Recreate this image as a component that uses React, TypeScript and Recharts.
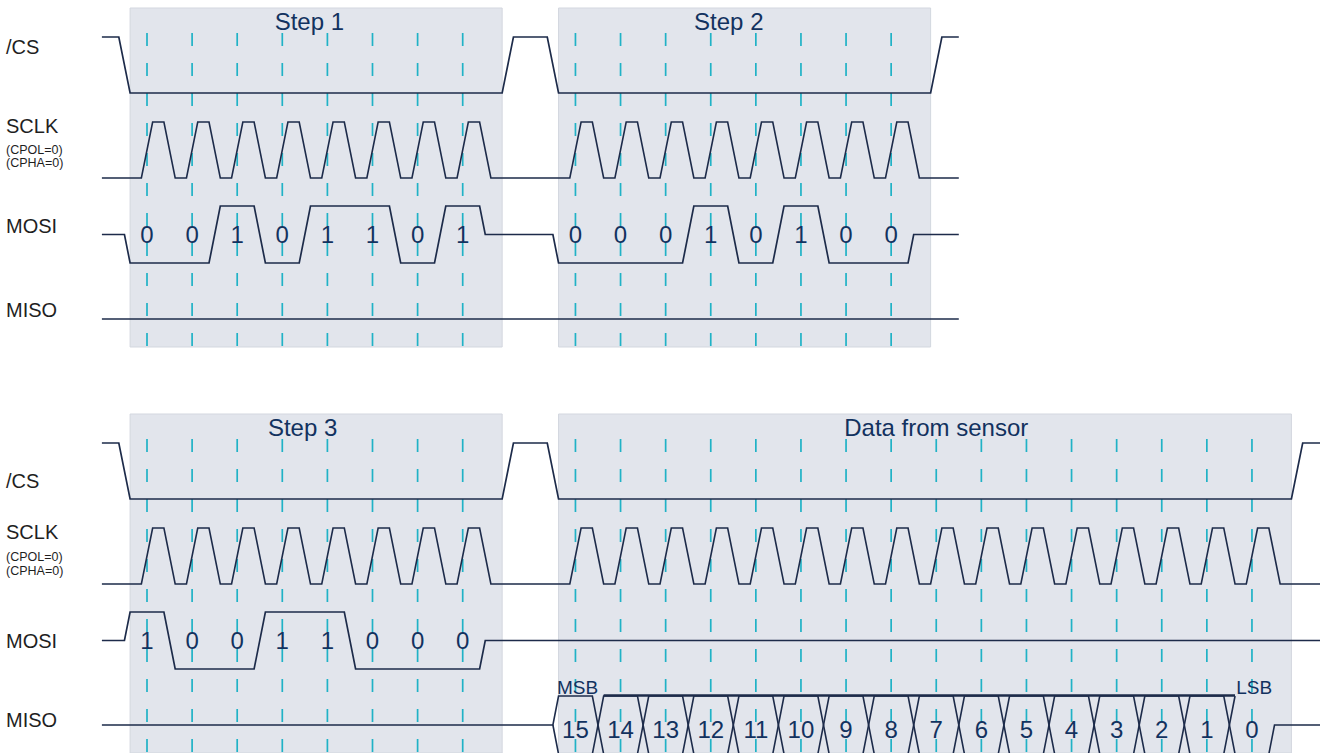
import React from 'react';
import { LineChart, Line, XAxis, YAxis, ReferenceArea, ReferenceLine, ReferenceDot } from 'recharts';

// bits sent on MOSI in each command step
const STEP1_BITS = [0, 0, 1, 0, 1, 1, 0, 1];
const STEP2_BITS = [0, 0, 0, 1, 0, 1, 0, 0];
const STEP3_BITS = [1, 0, 0, 1, 1, 0, 0, 0];
// bit numbers the sensor clocks out on MISO, MSB first
const SENSOR_BITS = [15, 14, 13, 12, 11, 10, 9, 8, 7, 6, 5, 4, 3, 2, 1, 0];

const FRAME_TITLES = ['Step 1', 'Step 2', 'Step 3', 'Data from sensor'];
const SIGNAL_NAMES = ['/CS', 'SCLK', 'MOSI', 'MISO'];
const CLOCK_NOTES = ['(CPOL=0)', '(CPHA=0)'];
const BUS_ENDS = ['MSB', 'LSB'];

// timing of the frames, in bit periods
const FRAME_STARTS = [0, 9.5];

// ---- layout ----
const W = 1320;
const PANEL_H = 406;
const PX_PER_BIT = 45.1;
const FIRST_BIT_X = 147;
const X_DOMAIN = [-FIRST_BIT_X / PX_PER_BIT, (W - FIRST_BIT_X) / PX_PER_BIT];
const T_START = -1;
const EDGE = 0.125; // half of an edge, bit periods

const CS_HI = 37, CS_LO = 93;
const CLK_HI = 122, CLK_LO = 178;
const MOSI_HI = 206, MOSI_MID = 234.5, MOSI_LO = 263;
const MISO_MID = 319, BUS_HALF = 29;
const BOX_TOP = 8, BOX_BOTTOM = 347, GRID_TOP = 33;
const LABEL_T = (6 - FIRST_BIT_X) / PX_PER_BIT;

const FONT = '"Liberation Sans", Arial, Helvetica, sans-serif';
const INK = '#1d2b4a';
const TEXT_BLUE = '#12325f';
const LABEL_INK = '#1f1f1f';
const GRID = '#20b2c6';
const FRAME_FILL = '#e2e5ec';
const FRAME_EDGE = '#d3d7df';

type Pt = { t: number; y: number };
type Frame = { start: number; title: string; bits?: number[]; bus?: number[]; titleAt: number };

const frameLen = (f: Frame) => (f.bits || f.bus || []).length;

function csWave(frames: Frame[], tEnd: number): Pt[] {
  const pts: Pt[] = [{ t: T_START, y: CS_HI }];
  frames.forEach((f) => {
    const last = f.start + frameLen(f) - 1;
    pts.push({ t: f.start - 0.5 - EDGE, y: CS_HI }, { t: f.start - 0.5 + EDGE, y: CS_LO });
    pts.push({ t: last + 1 - EDGE, y: CS_LO }, { t: last + 1 + EDGE, y: CS_HI });
  });
  pts.push({ t: tEnd, y: CS_HI });
  return pts;
}

function clkWave(frames: Frame[], tEnd: number): Pt[] {
  const pts: Pt[] = [{ t: T_START, y: CLK_LO }];
  frames.forEach((f) => {
    for (let i = 0; i < frameLen(f); i++) {
      const b = f.start + i;
      pts.push(
        { t: b - EDGE, y: CLK_LO },
        { t: b + EDGE, y: CLK_HI },
        { t: b + 0.5 - EDGE, y: CLK_HI },
        { t: b + 0.5 + EDGE, y: CLK_LO }
      );
    }
  });
  pts.push({ t: tEnd, y: CLK_LO });
  return pts;
}

const lvl = (bit: number) => (bit ? MOSI_HI : MOSI_LO);

function mosiWave(frames: Frame[], tEnd: number): Pt[] {
  const pts: Pt[] = [{ t: T_START, y: MOSI_MID }];
  frames.forEach((f) => {
    if (!f.bits) return;
    const s = f.start;
    const bits = f.bits;
    pts.push({ t: s - 0.5, y: MOSI_MID }, { t: s - 0.5 + EDGE, y: lvl(bits[0]) });
    for (let i = 1; i < bits.length; i++) {
      if (bits[i] !== bits[i - 1]) {
        pts.push({ t: s + i - 0.5 - EDGE, y: lvl(bits[i - 1]) }, { t: s + i - 0.5 + EDGE, y: lvl(bits[i]) });
      }
    }
    const last = s + bits.length - 1;
    pts.push({ t: last + 0.5 - EDGE, y: lvl(bits[bits.length - 1]) }, { t: last + 0.5, y: MOSI_MID });
  });
  pts.push({ t: tEnd, y: MOSI_MID });
  return pts;
}

function misoWaves(frames: Frame[], tEnd: number): Pt[][] {
  const f = frames.find((fr) => fr.bus);
  if (!f || !f.bus) return [[{ t: T_START, y: MISO_MID }, { t: tEnd, y: MISO_MID }]];
  const s = f.start;
  const n = f.bus.length;
  const top = MISO_MID - BUS_HALF;
  const bot = MISO_MID + BUS_HALF;
  const a: Pt[] = [{ t: T_START, y: MISO_MID }, { t: s - 0.5, y: MISO_MID }, { t: s - 0.5 + EDGE, y: top }];
  const b: Pt[] = [{ t: s - 0.5, y: MISO_MID }, { t: s - 0.5 + EDGE, y: bot }];
  let aTop = true;
  for (let k = 1; k < n; k++) {
    const c = s + k - 0.5;
    a.push({ t: c - EDGE, y: aTop ? top : bot }, { t: c + EDGE, y: aTop ? bot : top });
    b.push({ t: c - EDGE, y: aTop ? bot : top }, { t: c + EDGE, y: aTop ? top : bot });
    aTop = !aTop;
  }
  const last = s + n - 1;
  const low = aTop ? b : a;
  low.push({ t: last + 0.5 - EDGE, y: bot }, { t: last + 0.5, y: MISO_MID }, { t: tEnd, y: MISO_MID });
  return [a, b];
}

type TextStyle = { size: number; fill: string; anchor?: 'start' | 'middle' | 'end' };

const textMark = (key: string, t: number, y: number, value: string | number, st: TextStyle) => (
  <ReferenceDot
    key={key}
    x={t}
    y={y}
    r={0}
    ifOverflow="visible"
    shape={(p: any) => (
      <text
        x={p.cx}
        y={p.cy}
        textAnchor={st.anchor || 'middle'}
        dominantBaseline="central"
        fontFamily={FONT}
        fontSize={st.size}
        fill={st.fill}
      >
        {value}
      </text>
    )}
  />
);

type LabelRows = { names: number[]; notes: number[] };

const wire = (key: string, pts: Pt[], width = 1.7) => (
  <Line
    key={key}
    data={pts}
    dataKey="y"
    type="linear"
    stroke={INK}
    strokeWidth={width}
    dot={false}
    activeDot={false}
    isAnimationActive={false}
  />
);

function Panel({ frames, tEnd, rows }: { frames: Frame[]; tEnd: number; rows: LabelRows }) {
  const cs = csWave(frames, tEnd);
  const clk = clkWave(frames, tEnd);
  const mosi = mosiWave(frames, tEnd);
  const miso = misoWaves(frames, tEnd);
  const busFrame = frames.find((f) => f.bus);

  return (
    <LineChart width={W} height={PANEL_H} margin={{ top: 0, right: 0, bottom: 0, left: 0 }}>
      <XAxis type="number" dataKey="t" domain={X_DOMAIN} allowDataOverflow hide />
      <YAxis type="number" domain={[0, PANEL_H]} reversed allowDataOverflow hide />

      {frames.map((f) => (
        <ReferenceArea
          key={'box' + f.title}
          x1={f.start - 0.5 + EDGE}
          x2={f.start + frameLen(f) - EDGE}
          y1={BOX_TOP}
          y2={BOX_BOTTOM}
          fill={FRAME_FILL}
          fillOpacity={1}
          stroke={FRAME_EDGE}
          strokeWidth={1}
        />
      ))}

      {frames.map((f) =>
        Array.from({ length: frameLen(f) }, (_, i) => (
          <ReferenceLine
            key={'grid' + f.title + i}
            segment={[
              { x: f.start + i, y: GRID_TOP },
              { x: f.start + i, y: BOX_BOTTOM },
            ]}
            stroke={GRID}
            strokeWidth={1.7}
            strokeDasharray="13 17"
          />
        ))
      )}

      {wire('cs', cs)}
      {wire('clk', clk, 1.6)}
      {wire('mosi', mosi)}
      {miso.map((pts, i) => wire('miso' + i, pts, 1.6))}
      {busFrame && busFrame.bus && (
        <ReferenceLine
          segment={[
            { x: busFrame.start + 0.5 + EDGE, y: MISO_MID - BUS_HALF - 0.5 },
            { x: busFrame.start + busFrame.bus.length - 1.5 + EDGE, y: MISO_MID - BUS_HALF - 0.5 },
          ]}
          stroke={INK}
          strokeWidth={2.4}
        />
      )}

      {frames.map((f) => textMark('title' + f.title, f.start + f.titleAt, 21.5, f.title, { size: 24, fill: TEXT_BLUE }))}

      {frames.map((f) =>
        (f.bits || []).map((bit, i) => textMark('bit' + f.title + i, f.start + i, 234, bit, { size: 24, fill: TEXT_BLUE }))
      )}
      {busFrame &&
        busFrame.bus &&
        busFrame.bus.map((num, i) => textMark('bus' + i, busFrame.start + i, 323.5, num, { size: 24, fill: TEXT_BLUE }))}
      {busFrame && busFrame.bus && textMark('msb', busFrame.start - 0.41, 281, BUS_ENDS[0], { size: 19, fill: TEXT_BLUE, anchor: 'start' })}
      {busFrame &&
        busFrame.bus &&
        textMark('lsb', busFrame.start + busFrame.bus.length - 1.35, 281, BUS_ENDS[1], { size: 19, fill: TEXT_BLUE, anchor: 'start' })}

      {SIGNAL_NAMES.map((name, i) => textMark('name' + name, LABEL_T, rows.names[i], name, { size: 20, fill: LABEL_INK, anchor: 'start' }))}
      {CLOCK_NOTES.map((note, i) => textMark('note' + note, LABEL_T, rows.notes[i], note, { size: 12.5, fill: LABEL_INK, anchor: 'start' }))}
    </LineChart>
  );
}

const TOP_FRAMES: Frame[] = [
  { start: FRAME_STARTS[0], title: FRAME_TITLES[0], bits: STEP1_BITS, titleAt: 3.6 },
  { start: FRAME_STARTS[1], title: FRAME_TITLES[1], bits: STEP2_BITS, titleAt: 3.4 },
];
const BOTTOM_FRAMES: Frame[] = [
  { start: FRAME_STARTS[0], title: FRAME_TITLES[2], bits: STEP3_BITS, titleAt: 3.45 },
  { start: FRAME_STARTS[1], title: FRAME_TITLES[3], bus: SENSOR_BITS, titleAt: 8.0 },
];

export default function App() {
  return (
    <div
      style={{
        position: 'absolute',
        left: 0,
        top: 0,
        width: W,
        height: 753,
        overflow: 'hidden',
        background: '#ffffff',
      }}
    >
      <Panel frames={TOP_FRAMES} tEnd={18} rows={{ names: [47, 126, 226, 310], notes: [150, 163] }} />
      <Panel frames={BOTTOM_FRAMES} tEnd={27} rows={{ names: [75, 126, 235, 314], notes: [151, 165] }} />
    </div>
  );
}
